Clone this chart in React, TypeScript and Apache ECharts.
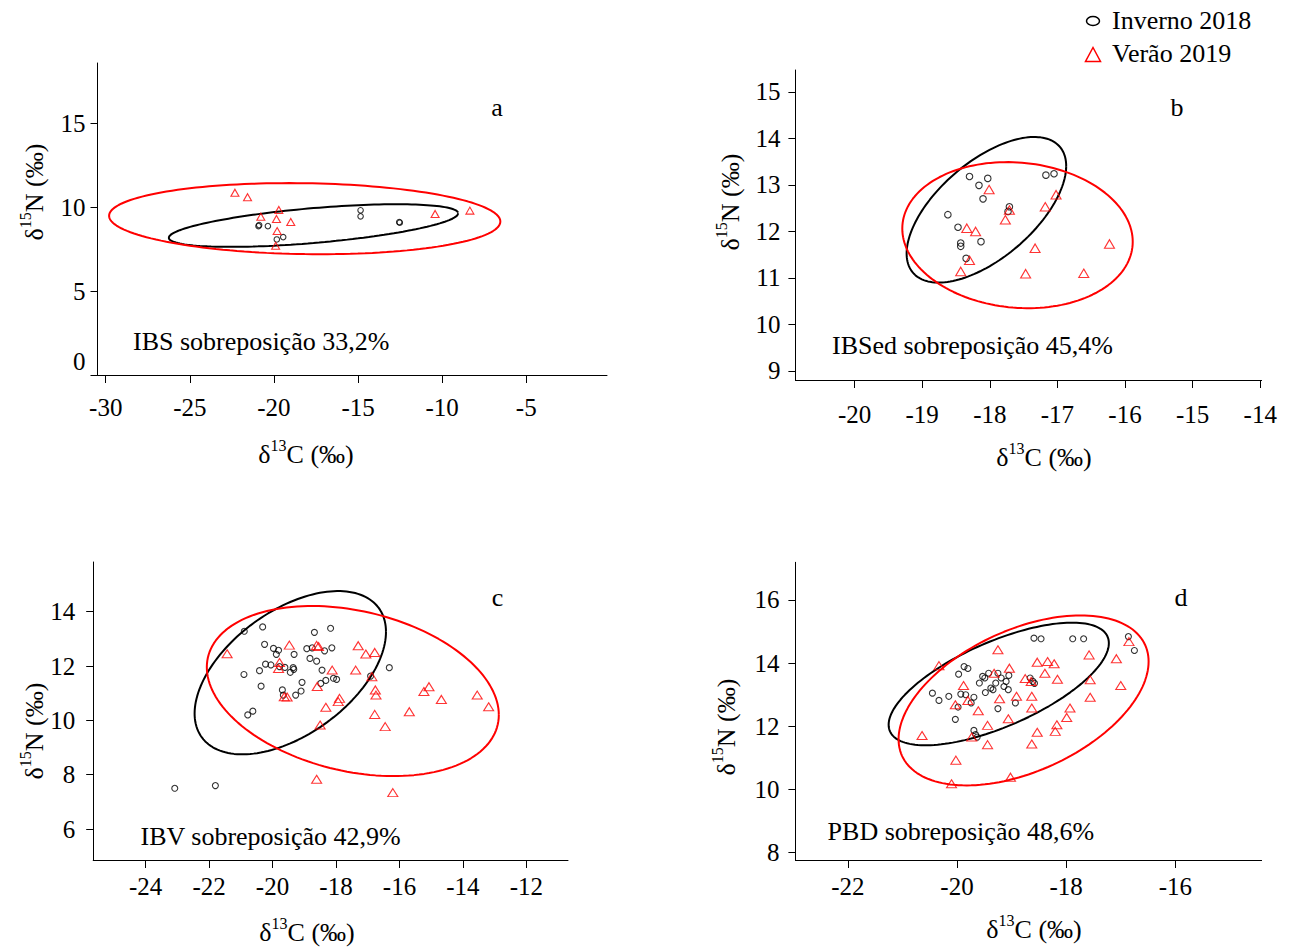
import React, { useEffect, useRef } from "react";
import * as echarts from "echarts";

const FONT = '"Liberation Serif", "Times New Roman", Times, serif';
const RED = "#ff0000";

// ---------- Panel a (IBS) ----------
const aInverno = [
  [-20.92, 8.88], [-20.88, 8.94], [-20.36, 8.88], [-19.45, 8.22], [-19.83, 8.08],
  [-14.85, 9.82], [-14.85, 9.46], [-12.55, 9.12], [-12.52, 9.08],
];
const aVerao = [
  [-22.32, 10.87], [-21.57, 10.6], [-20.78, 9.44], [-19.71, 9.84], [-19.85, 9.3],
  [-19.0, 9.12], [-19.81, 8.58], [-19.9, 7.7], [-10.42, 9.6], [-8.35, 9.8],
];
// ellipse: [centre x, centre y, half-width, half-height, correlation of extremes]
const aEllInverno = [-17.65, 8.91, 8.6, 1.27, 0.575];
const aEllVerao = [-18.17, 9.32, 11.63, 2.12, -0.08];
const aTicksX = [-30, -25, -20, -15, -10, -5];
const aTicksY = [0, 5, 10, 15];

// ---------- Panel b (IBSed) ----------
const bInverno = [
  [-18.62, 12.36], [-18.47, 12.09], [-18.43, 11.75], [-18.43, 11.68], [-18.35, 11.42],
  [-18.3, 13.18], [-18.16, 12.99], [-18.1, 12.7], [-18.03, 13.14], [-18.13, 11.78],
  [-17.71, 12.53], [-17.73, 12.43], [-17.17, 13.21], [-17.05, 13.24],
];
const bVerao = [
  [-18.43, 11.14], [-18.34, 12.07], [-18.3, 11.38], [-18.21, 12.0], [-18.01, 12.9],
  [-17.77, 12.25], [-17.71, 12.46], [-17.47, 11.09], [-17.33, 11.64], [-17.18, 12.53],
  [-17.02, 12.79], [-16.61, 11.1], [-16.23, 11.73],
];
const bEllInverno = [-18.05, 12.465, 1.18, 1.565, 0.6];
const bEllVerao = [-17.59, 11.92, 1.704, 1.57, -0.09];
const bTicksX = [-20, -19, -18, -17, -16, -15, -14];
const bTicksY = [9, 10, 11, 12, 13, 14, 15];

// ---------- Panel c (IBV) ----------
const cInverno = [
  [-23.08, 7.5], [-21.8, 7.6], [-20.89, 13.28], [-20.9, 11.69], [-20.78, 10.2],
  [-20.62, 10.34], [-20.41, 11.83], [-20.36, 11.26], [-20.31, 13.44], [-20.25, 12.8],
  [-20.22, 12.07], [-20.05, 12.04], [-19.97, 12.65], [-19.88, 12.43], [-19.81, 12.58],
  [-19.78, 11.98], [-19.69, 11.12], [-19.66, 10.93], [-19.61, 11.95], [-19.44, 11.77],
  [-19.35, 11.94], [-19.33, 11.88], [-19.32, 12.43], [-19.27, 10.93], [-19.1, 11.08],
  [-19.07, 11.4], [-18.92, 12.64], [-18.82, 12.28], [-18.75, 12.67], [-18.68, 13.24],
  [-18.61, 12.18], [-18.48, 11.36], [-18.44, 11.85], [-18.36, 12.56], [-18.32, 11.47],
  [-18.17, 13.39], [-18.13, 12.67], [-18.08, 11.55], [-17.98, 11.51], [-16.91, 11.63],
  [-16.32, 11.94],
];
const cVerao = [
  [-21.43, 12.45], [-19.78, 12.13], [-19.81, 11.91], [-19.63, 10.87], [-19.54, 10.86],
  [-19.47, 12.77], [-18.61, 12.76], [-18.55, 12.72], [-18.59, 11.25], [-18.5, 9.83],
  [-18.61, 7.83], [-18.32, 10.48], [-18.12, 11.85], [-17.93, 10.69], [-17.89, 10.81],
  [-17.38, 11.85], [-17.3, 12.75], [-17.06, 12.44], [-16.87, 11.61], [-16.78, 12.5],
  [-16.78, 10.22], [-16.76, 11.12], [-16.74, 10.93], [-16.45, 9.77], [-16.21, 7.34],
  [-15.69, 10.32], [-15.23, 11.06], [-15.07, 11.24], [-14.68, 10.77], [-13.55, 10.93],
  [-13.19, 10.5],
];
const cEllInverno = [-19.44, 11.755, 3.015, 3.005, 0.5];
const cEllVerao = [-17.47, 11.08, 4.6, 3.13, -0.28];
const cTicksX = [-24, -22, -20, -18, -16, -14, -12];
const cTicksY = [6, 8, 10, 12, 14];

// ---------- Panel d (PBD) ----------
const dInverno = [
  [-20.45, 13.05], [-20.33, 12.82], [-20.15, 12.95], [-20.03, 12.22], [-19.98, 12.61],
  [-19.97, 13.65], [-19.93, 13.02], [-19.87, 13.89], [-19.84, 13.0], [-19.8, 13.83],
  [-19.74, 12.74], [-19.69, 12.92], [-19.69, 11.87], [-19.66, 11.74], [-19.63, 11.66],
  [-19.59, 13.37], [-19.53, 13.58], [-19.49, 13.53], [-19.48, 13.07], [-19.42, 13.68],
  [-19.38, 13.21], [-19.34, 13.16], [-19.29, 13.37], [-19.25, 12.56], [-19.25, 13.68],
  [-19.19, 13.53], [-19.14, 13.26], [-19.1, 13.42], [-19.06, 13.16], [-19.05, 13.61],
  [-18.93, 12.74], [-18.66, 13.53], [-18.61, 13.42], [-18.58, 13.36], [-18.59, 14.79],
  [-18.46, 14.77], [-17.88, 14.77], [-17.68, 14.77], [-16.86, 14.84], [-16.75, 14.4],
];
const dVerao = [
  [-20.64, 11.71], [-20.33, 13.92], [-20.1, 10.18], [-20.03, 12.68], [-20.02, 10.93],
  [-19.88, 13.29], [-19.8, 12.82], [-19.73, 11.66], [-19.61, 12.49], [-19.44, 12.03],
  [-19.44, 11.42], [-19.32, 13.68], [-19.25, 14.42], [-19.22, 12.87], [-19.06, 12.24],
  [-19.04, 13.84], [-19.02, 10.39], [-18.91, 12.95], [-18.75, 13.51], [-18.64, 13.42],
  [-18.63, 12.95], [-18.63, 12.58], [-18.63, 11.44], [-18.53, 11.81], [-18.53, 14.03],
  [-18.39, 13.68], [-18.34, 14.05], [-18.22, 13.98], [-18.2, 11.84], [-18.17, 12.05],
  [-18.16, 13.49], [-17.99, 12.28], [-17.93, 12.58], [-17.58, 14.26], [-17.56, 13.47],
  [-17.56, 12.92], [-17.08, 14.14], [-17.0, 13.29], [-16.85, 14.68],
];
const dEllInverno = [-19.235, 13.34, 2.017, 1.94, 0.665];
const dEllVerao = [-18.78, 12.82, 2.29, 2.69, 0.457];
const dTicksX = [-22, -20, -18, -16];
const dTicksY = [8, 10, 12, 14, 16];

const panelLetters = ["a", "b", "c", "d"];
const overlapLabels = [
  "IBS sobreposição 33,2%",
  "IBSed sobreposição 45,4%",
  "IBV sobreposição 42,9%",
  "PBD sobreposição 48,6%",
];
const legendLabels = ["Inverno 2018", "Verão 2019"];

function ellipse(p: number[], n = 160) {
  const [cx, cy, A, B, c] = p;
  const phi = Math.acos(c);
  const pts: number[][] = [];
  for (let i = 0; i <= n; i++) {
    const t = (2 * Math.PI * i) / n;
    pts.push([cx + A * Math.cos(t), cy + B * Math.cos(t + phi)]);
  }
  return pts;
}

const panels = [
  {
    grid: { left: 97.5, top: 63, width: 509.5, height: 312 },
    x: [-30.49, -0.2], y: [0, 18.6], xt: aTicksX, yt: aTicksY,
    inv: aInverno, ver: aVerao, eI: aEllInverno, eV: aEllVerao,
    xm: 20, ym: 12, cs: 5.5, ts: [8, 7],
    ytitle: [32, 192], xtitle: [306, 452], letter: [497, 107], note: [133, 341],
  },
  {
    grid: { left: 795.4, top: 70, width: 466.2, height: 310 },
    x: [-20.875, -13.98], y: [8.806, 15.47], xt: bTicksX, yt: bTicksY,
    inv: bInverno, ver: bVerao, eI: bEllInverno, eV: bEllVerao,
    xm: 22, ym: 15, cs: 6.5, ts: [10, 8.5],
    ytitle: [728, 202], xtitle: [1044, 455], letter: [1177, 107], note: [832, 345],
  },
  {
    grid: { left: 93.2, top: 562, width: 474.8, height: 298 },
    x: [-25.65, -10.69], y: [4.86, 15.83], xt: cTicksX, yt: cTicksY,
    inv: cInverno, ver: cVerao, eI: cEllInverno, eV: cEllVerao,
    xm: 14, ym: 18, cs: 6, ts: [10, 8],
    ytitle: [32, 731], xtitle: [307, 930], letter: [497.5, 597], note: [140.5, 836.5],
  },
  {
    grid: { left: 795.4, top: 562.3, width: 466.2, height: 297.7 },
    x: [-22.96, -14.42], y: [7.77, 17.19], xt: dTicksX, yt: dTicksY,
    inv: dInverno, ver: dVerao, eI: dEllInverno, eV: dEllVerao,
    xm: 14, ym: 16, cs: 6, ts: [10, 8],
    ytitle: [724, 727], xtitle: [1034, 927], letter: [1181, 597], note: [827.6, 831],
  },
];

const titleRich = {
  n: { fontSize: 26, fontFamily: FONT, fill: "#000", lineHeight: 30, verticalAlign: "bottom" },
  s: { fontSize: 16, fontFamily: FONT, fill: "#000", lineHeight: 14, verticalAlign: "top" },
};

export default function App() {
  const ref = useRef<HTMLDivElement>(null);
  useEffect(() => {
    document.body.style.margin = "0";
    const chart = echarts.init(ref.current!, null, { renderer: "svg" });
    const axisLine = { show: true, onZero: false, lineStyle: { color: "#000", width: 1 } };
    const option: any = {
      animation: false,
      backgroundColor: "#fff",
      grid: panels.map((p) => ({ ...p.grid, containLabel: false })),
      xAxis: panels.map((p, i) => ({
        type: "value",
        gridIndex: i,
        min: p.x[0],
        max: p.x[1],
        axisLine,
        splitLine: { show: false },
        axisTick: { show: true, length: 8, customValues: p.xt, lineStyle: { color: "#000" } },
        axisLabel: {
          customValues: p.xt,
          margin: p.xm,
          fontSize: 25,
          fontFamily: FONT,
          color: "#000",
          formatter: (v: number) => String(v),
        },
      })),
      yAxis: panels.map((p, i) => ({
        type: "value",
        gridIndex: i,
        min: p.y[0],
        max: p.y[1],
        axisLine,
        splitLine: { show: false },
        axisTick: { show: true, length: 7, customValues: p.yt, lineStyle: { color: "#000" } },
        axisLabel: {
          customValues: p.yt,
          margin: p.ym,
          fontSize: 25,
          fontFamily: FONT,
          color: "#000",
          formatter: (v: number) => (i === 0 && v === 0 ? "{z|0}" : String(v)),
          rich: { z: { fontSize: 25, fontFamily: FONT, color: "#000", padding: [0, 0, 28, 0] } },
        },
      })),
      series: panels.flatMap((p, i) => [
        {
          type: "line", xAxisIndex: i, yAxisIndex: i, data: ellipse(p.eI), showSymbol: false,
          silent: true, z: 2, lineStyle: { color: "#000", width: 2 },
        },
        {
          type: "line", xAxisIndex: i, yAxisIndex: i, data: ellipse(p.eV), showSymbol: false,
          silent: true, z: 2, lineStyle: { color: RED, width: 2 },
        },
        {
          type: "scatter", xAxisIndex: i, yAxisIndex: i, data: p.inv, symbol: "circle",
          symbolSize: p.cs, silent: true, z: 3,
          itemStyle: { color: "rgba(0,0,0,0)", borderColor: "#000", borderWidth: 1.1 },
        },
        {
          type: "scatter", xAxisIndex: i, yAxisIndex: i, data: p.ver, symbol: "triangle",
          symbolSize: p.ts, silent: true, z: 3,
          itemStyle: { color: "rgba(0,0,0,0)", borderColor: RED, borderWidth: 1.1 },
        },
      ]),
      graphic: [
        ...panels.flatMap((p, i) => [
          {
            type: "text", x: p.ytitle[0], y: p.ytitle[1], rotation: Math.PI / 2,
            style: { text: "{n|δ}{s|15}{n|N (‰)}", rich: titleRich, align: "center", verticalAlign: "middle" },
          },
          {
            type: "text", x: p.xtitle[0], y: p.xtitle[1],
            style: { text: "{n|δ}{s|13}{n|C (‰)}", rich: titleRich, align: "center", verticalAlign: "middle" },
          },
          {
            type: "text", x: p.letter[0], y: p.letter[1],
            style: { text: panelLetters[i], fontSize: 26, fontFamily: FONT, fill: "#000", align: "center", verticalAlign: "middle" },
          },
          {
            type: "text", x: p.note[0], y: p.note[1],
            style: { text: overlapLabels[i], fontSize: 26, fontFamily: FONT, fill: "#000", align: "left", verticalAlign: "middle" },
          },
        ]),
        {
          type: "ellipse", shape: { cx: 1093, cy: 21, rx: 6.5, ry: 4.5 },
          style: { fill: "none", stroke: "#000", lineWidth: 1.5 },
        },
        {
          type: "text", x: 1112, y: 20,
          style: { text: legendLabels[0], fontSize: 26, fontFamily: FONT, fill: "#000", align: "left", verticalAlign: "middle" },
        },
        {
          type: "polygon", shape: { points: [[1085.5, 61.5], [1100.5, 61.5], [1093, 47.5]] },
          style: { fill: "none", stroke: RED, lineWidth: 1.5 },
        },
        {
          type: "text", x: 1112, y: 53,
          style: { text: legendLabels[1], fontSize: 26, fontFamily: FONT, fill: "#000", align: "left", verticalAlign: "middle" },
        },
      ],
    };
    chart.setOption(option);
    return () => chart.dispose();
  }, []);
  return (
    <div
      ref={ref}
      style={{ position: "absolute", left: 0, top: 0, width: 1300, height: 950 }}
    />
  );
}
